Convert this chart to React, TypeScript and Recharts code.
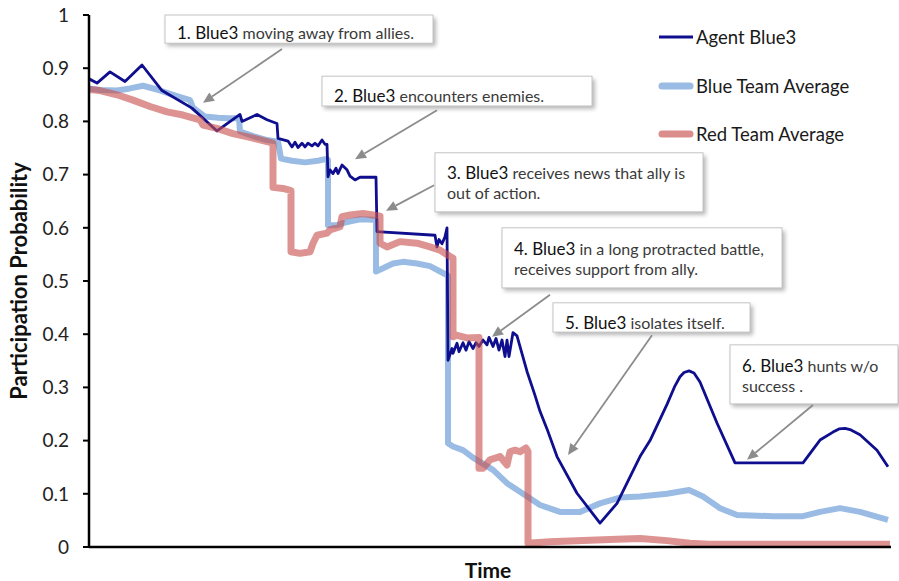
import React from 'react';
import { LineChart, Line, XAxis, YAxis, ReferenceArea, ReferenceLine, Legend } from 'recharts';

const FONT = 'Lato, "Open Sans", sans-serif';

// ---- Data (time units are arbitrary) ----
const agentTime = [0, 8, 21, 36, 53, 73, 103, 128, 151, 153, 168, 178, 188, 189, 199, 203, 206, 209, 213, 216, 219, 223, 226, 229, 233, 236, 238, 239, 241, 244, 247, 249, 253, 258, 261, 266, 271, 287, 288, 346, 348, 350, 353, 356, 358, 359, 363, 364, 368, 370, 374, 377, 380, 384, 387, 390, 394, 398, 400, 404, 407, 410, 413, 416, 418, 420, 424, 428, 438, 446, 451, 458, 468, 488, 511, 528, 551, 561, 578, 586, 591, 595, 600, 605, 611, 628, 646, 714, 731, 744, 750, 756, 762, 771, 788, 799];
const agentProb = [0.880, 0.872, 0.893, 0.875, 0.906, 0.858, 0.825, 0.782, 0.813, 0.800, 0.813, 0.803, 0.796, 0.768, 0.763, 0.752, 0.761, 0.751, 0.759, 0.752, 0.759, 0.754, 0.759, 0.754, 0.765, 0.757, 0.757, 0.696, 0.709, 0.702, 0.712, 0.702, 0.718, 0.709, 0.697, 0.690, 0.695, 0.695, 0.593, 0.586, 0.564, 0.578, 0.570, 0.583, 0.600, 0.351, 0.373, 0.364, 0.383, 0.367, 0.384, 0.370, 0.386, 0.373, 0.384, 0.377, 0.389, 0.380, 0.394, 0.377, 0.392, 0.370, 0.389, 0.358, 0.389, 0.358, 0.403, 0.397, 0.330, 0.285, 0.255, 0.222, 0.170, 0.101, 0.045, 0.082, 0.170, 0.200, 0.268, 0.303, 0.320, 0.328, 0.331, 0.327, 0.310, 0.233, 0.158, 0.158, 0.201, 0.216, 0.222, 0.223, 0.220, 0.211, 0.182, 0.151];

const blueTime = [0, 11, 28, 41, 54, 68, 84, 101, 104, 116, 129, 139, 150, 151, 165, 178, 189, 192, 203, 216, 229, 236, 239, 239, 248, 258, 271, 284, 287, 287, 294, 304, 314, 328, 341, 354, 359, 359, 364, 374, 384, 404, 418, 431, 451, 471, 491, 511, 531, 551, 578, 600, 614, 631, 648, 684, 714, 731, 751, 771, 799];
const blueProb = [0.862, 0.859, 0.858, 0.862, 0.867, 0.860, 0.850, 0.840, 0.826, 0.809, 0.807, 0.806, 0.806, 0.781, 0.772, 0.765, 0.762, 0.730, 0.726, 0.723, 0.726, 0.729, 0.728, 0.605, 0.605, 0.611, 0.616, 0.615, 0.614, 0.518, 0.524, 0.533, 0.536, 0.533, 0.528, 0.515, 0.510, 0.195, 0.189, 0.182, 0.168, 0.145, 0.120, 0.104, 0.079, 0.066, 0.066, 0.082, 0.093, 0.095, 0.100, 0.107, 0.095, 0.073, 0.060, 0.058, 0.058, 0.066, 0.073, 0.066, 0.051];

const redTime = [0, 11, 28, 44, 61, 78, 94, 111, 114, 128, 144, 161, 178, 184, 184, 194, 202, 202, 211, 221, 224, 228, 238, 241, 251, 253, 261, 274, 284, 291, 291, 298, 311, 328, 341, 351, 361, 364, 364, 368, 378, 390, 390, 394, 401, 411, 418, 421, 426, 431, 437, 439, 439, 461, 494, 528, 551, 578, 601, 620, 801];
const redProb = [0.860, 0.858, 0.850, 0.840, 0.828, 0.818, 0.812, 0.803, 0.793, 0.787, 0.777, 0.770, 0.762, 0.759, 0.676, 0.674, 0.670, 0.555, 0.552, 0.555, 0.571, 0.586, 0.590, 0.596, 0.602, 0.621, 0.624, 0.627, 0.624, 0.622, 0.571, 0.564, 0.574, 0.571, 0.564, 0.558, 0.546, 0.543, 0.395, 0.398, 0.393, 0.394, 0.148, 0.148, 0.164, 0.170, 0.154, 0.179, 0.182, 0.179, 0.186, 0.180, 0.007, 0.010, 0.012, 0.0145, 0.016, 0.012, 0.007, 0.005, 0.005];

const yTicks = [0, 0.1, 0.2, 0.3, 0.4, 0.5, 0.6, 0.7, 0.8, 0.9, 1];
const yTickLabels = ['0', '0.1', '0.2', '0.3', '0.4', '0.5', '0.6', '0.7', '0.8', '0.9', '1'];
const seriesNames = ['Agent Blue3', 'Blue Team Average', 'Red Team Average'];

// annotation texts
const noteHeads = ['1. Blue3', '2. Blue3', '3. Blue3', '4. Blue3', '5. Blue3', '6. Blue3'];
const noteTails = [
  [' moving away from allies.'],
  [' encounters enemies.'],
  [' receives news that ally is', 'out of action.'],
  [' in a long protracted battle,', 'receives support from ally.'],
  [' isolates itself.'],
  [' hunts w/o', 'success .'],
];

const toRows = (t: number[], v: number[]) => t.map((x, i) => ({ t: x, p: v[i] }));
const agentRows = toRows(agentTime, agentProb);
const blueRows = toRows(blueTime, blueProb);
const redRows = toRows(redTime, redProb);

// ---- layout / styles ----
const COLORS = { agent: '#0e0e8e', blue: '#8fb4e0', red: '#c8504e' };

const boxes = [
  { x1: 76, x2: 344, y1: 0.947, y2: 1.0, first: 17 },
  { x1: 233, x2: 503, y1: 0.829, y2: 0.885, first: 19 },
  { x1: 346, x2: 614, y1: 0.630, y2: 0.741, first: 19 },
  { x1: 413, x2: 693, y1: 0.487, y2: 0.600, first: 20 },
  { x1: 464, x2: 661, y1: 0.404, y2: 0.459, first: 19 },
  { x1: 641, x2: 809, y1: 0.269, y2: 0.380, first: 20 },
];
const arrows = [
  { from: { x: 193, y: 0.936 }, to: { x: 114, y: 0.835 } },
  { from: { x: 348, y: 0.821 }, to: { x: 266, y: 0.729 } },
  { from: { x: 345, y: 0.680 }, to: { x: 297, y: 0.632 } },
  { from: { x: 461, y: 0.474 }, to: { x: 403, y: 0.395 } },
  { from: { x: 563, y: 0.398 }, to: { x: 479, y: 0.173 } },
  { from: { x: 724, y: 0.267 }, to: { x: 658, y: 0.164 } },
];

const makeBox = (idx: number) => (props: any) => {
  const { x, y, width, height } = props;
  const b = boxes[idx];
  const tails = noteTails[idx];
  return (
    <g>
      <defs>
        <filter id={`shadow${idx}`} x="-20%" y="-30%" width="140%" height="180%">
          <feGaussianBlur stdDeviation="2" />
        </filter>
      </defs>
      <rect x={x + 2} y={y + 3} width={width + 1} height={height} fill="#000" opacity={0.28} filter={`url(#shadow${idx})`} />
      <rect x={x} y={y} width={width} height={height} fill="#fff" stroke="#c4c4c4" strokeWidth={1} />
      {tails.map((t, i) => (
        <text key={i} x={x + 12} y={y + b.first + i * 20} dominantBaseline="central" fontFamily={FONT}>
          {i === 0 && <tspan fontSize={17} fill="#111">{noteHeads[idx]}</tspan>}
          <tspan fontSize={16} fill="#3a3a3a">{t}</tspan>
        </text>
      ))}
    </g>
  );
};

const arrowShape = (props: any) => {
  const { x1, y1, x2, y2 } = props;
  const dx = x2 - x1;
  const dy = y2 - y1;
  const len = Math.hypot(dx, dy) || 1;
  const ux = dx / len;
  const uy = dy / len;
  const hl = 11;
  const hw = 5;
  const bx = x2 - ux * hl;
  const by = y2 - uy * hl;
  const pts = `${x2},${y2} ${bx - uy * hw},${by + ux * hw} ${bx + uy * hw},${by - ux * hw}`;
  return (
    <g>
      <line x1={x1} y1={y1} x2={bx} y2={by} stroke="#8c8c8c" strokeWidth={1.8} />
      <polygon points={pts} fill="#8c8c8c" />
    </g>
  );
};

const legendStyles = [
  { color: COLORS.agent, w: 3, op: 1 },
  { color: COLORS.blue, w: 7, op: 0.9 },
  { color: COLORS.red, w: 7, op: 0.65 },
];

const LegendBox = () => (
  <div style={{ position: 'relative', width: 250, height: 140, fontFamily: FONT }}>
    {seriesNames.map((n, i) => (
      <div key={n} style={{ position: 'absolute', left: 0, top: 7 + i * 48.5, height: 24, display: 'flex', alignItems: 'center' }}>
        <svg width={49} height={24} style={{ display: 'block' }}>
          <line x1={i === 0 ? 12 : 15} y1={12} x2={i === 0 ? 46 : 43} y2={12} stroke={legendStyles[i].color} strokeWidth={legendStyles[i].w} strokeOpacity={legendStyles[i].op} strokeLinecap={i === 0 ? 'butt' : 'round'} />
        </svg>
        <span style={{ fontSize: 18.5, color: '#1a1a1a', whiteSpace: 'nowrap' }}>{n}</span>
      </div>
    ))}
  </div>
);

export default function App() {
  return (
    <div style={{ position: 'absolute', left: 0, top: 0, width: 899, height: 581, background: '#fff', fontFamily: FONT }}>
      <LineChart width={899} height={581} margin={{ top: 15, right: 8, left: 0, bottom: 0 }} style={{ fontFamily: FONT }}>
        <XAxis
          dataKey="t"
          type="number"
          domain={[0, 802]}
          allowDataOverflow
          tick={false}
          tickLine={false}
          height={34}
          axisLine={{ stroke: '#000', strokeWidth: 2.5 }}
          label={{
            content: (p: any) => {
              const vb = p.viewBox || {};
              return (
                <text x={vb.x + vb.width / 2 - 2} y={569} textAnchor="middle" dominantBaseline="central" fontWeight="bold" fontSize={21} fill="#111" fontFamily={FONT}>
                  Time
                </text>
              );
            },
          }}
        />
        <YAxis
          type="number"
          domain={[0, 1]}
          ticks={yTicks}
          interval={0}
          width={89}
          tickSize={6}
          tickMargin={14}
          tickFormatter={(v: number) => yTickLabels[yTicks.indexOf(v)] ?? String(v)}
          tick={{ fill: '#222', fontSize: 19, fontFamily: FONT }}
          tickLine={{ stroke: '#000', strokeWidth: 2 }}
          axisLine={{ stroke: '#000', strokeWidth: 2.5 }}
          label={{
            content: (p: any) => {
              const vb = p.viewBox || {};
              const cy = vb.y + vb.height / 2;
              return (
                <text x={18} y={cy} transform={`rotate(-90 18 ${cy})`} textAnchor="middle" dominantBaseline="central" fontWeight="bold" fontSize={22} fill="#111" fontFamily={FONT}>
                  Participation Probability
                </text>
              );
            },
          }}
        />
        <Legend
          layout="horizontal"
          verticalAlign="middle"
          align="center"
          width={250}
          wrapperStyle={{ left: 647, top: 18, width: 250, height: 140 }}
          content={() => <LegendBox />}
        />
        <Line data={blueRows} dataKey="p" name={seriesNames[1]} type="linear" stroke={COLORS.blue} strokeOpacity={0.9} strokeWidth={6} dot={false} activeDot={false} isAnimationActive={false} strokeLinejoin="round" />
        <Line data={agentRows} dataKey="p" name={seriesNames[0]} type="linear" stroke={COLORS.agent} strokeWidth={2.8} dot={false} activeDot={false} isAnimationActive={false} strokeLinejoin="round" />
        <Line data={redRows} dataKey="p" name={seriesNames[2]} type="linear" stroke={COLORS.red} strokeOpacity={0.62} strokeWidth={7} dot={false} activeDot={false} isAnimationActive={false} strokeLinejoin="round" />
        {arrows.map((a, i) => (
          <ReferenceLine key={`a${i}`} segment={[a.from, a.to]} ifOverflow="visible" shape={arrowShape} />
        ))}
        {boxes.map((b, i) => (
          <ReferenceArea key={`b${i}`} x1={b.x1} x2={b.x2} y1={b.y1} y2={b.y2} ifOverflow="visible" shape={makeBox(i)} />
        ))}
      </LineChart>
    </div>
  );
}
